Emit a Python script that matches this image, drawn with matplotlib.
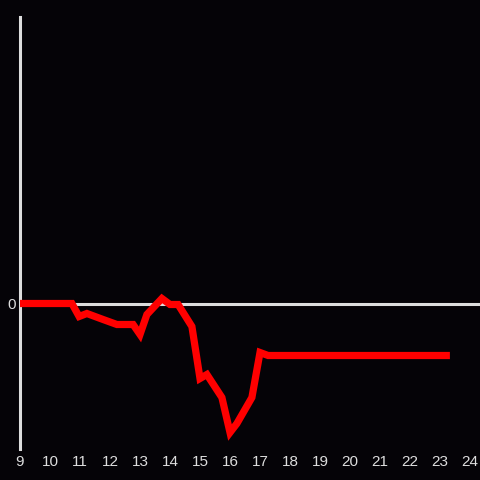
import matplotlib
matplotlib.use("Agg")
import matplotlib.pyplot as plt

hours = [9.0, 10.73, 10.97, 11.23, 11.77, 12.23, 12.77, 13.0, 13.23, 13.73, 14.0,
         14.27, 14.73, 15.0, 15.23, 15.73, 16.0, 16.23, 16.73, 17.0, 17.27, 23.33]
values = [0, 0, -13, -10, -16, -21, -21, -31, -11, 5, -1,
          -1, -23, -75, -71, -94, -129, -120, -94, -49, -52, -52]
xticks = list(range(9, 25))

bg = "#050307"
fg = "#dddddd"

fig = plt.figure(figsize=(4.8, 4.8), dpi=100, facecolor=bg)
ax = fig.add_axes([20/480, 31.5/480, 460/480, 432/480])
ax.set_facecolor(bg)
ax.set_xlim(9, 9 + 460/30)
ax.set_ylim(-145, 287)

for s in ["top", "right", "bottom"]:
    ax.spines[s].set_visible(False)
ax.spines["left"].set_color(fg)
ax.spines["left"].set_linewidth(2.2)

ax.axhline(0, color=fg, linewidth=2.2, zorder=1)
ax.plot(hours, values, color="#ff0000", linewidth=5.2, solid_joinstyle="miter",
        solid_capstyle="butt", zorder=3)

ax.set_xticks(xticks)
ax.set_xticklabels([str(t) for t in xticks])
ax.set_yticks([0])
ax.set_yticklabels(["0"])
ax.tick_params(axis="both", length=0, colors=fg, labelsize=11, labelfontfamily="Liberation Sans")
ax.tick_params(axis="x", pad=5)
ax.tick_params(axis="y", pad=3)

fig.savefig("out.png", dpi=100, facecolor=bg)
